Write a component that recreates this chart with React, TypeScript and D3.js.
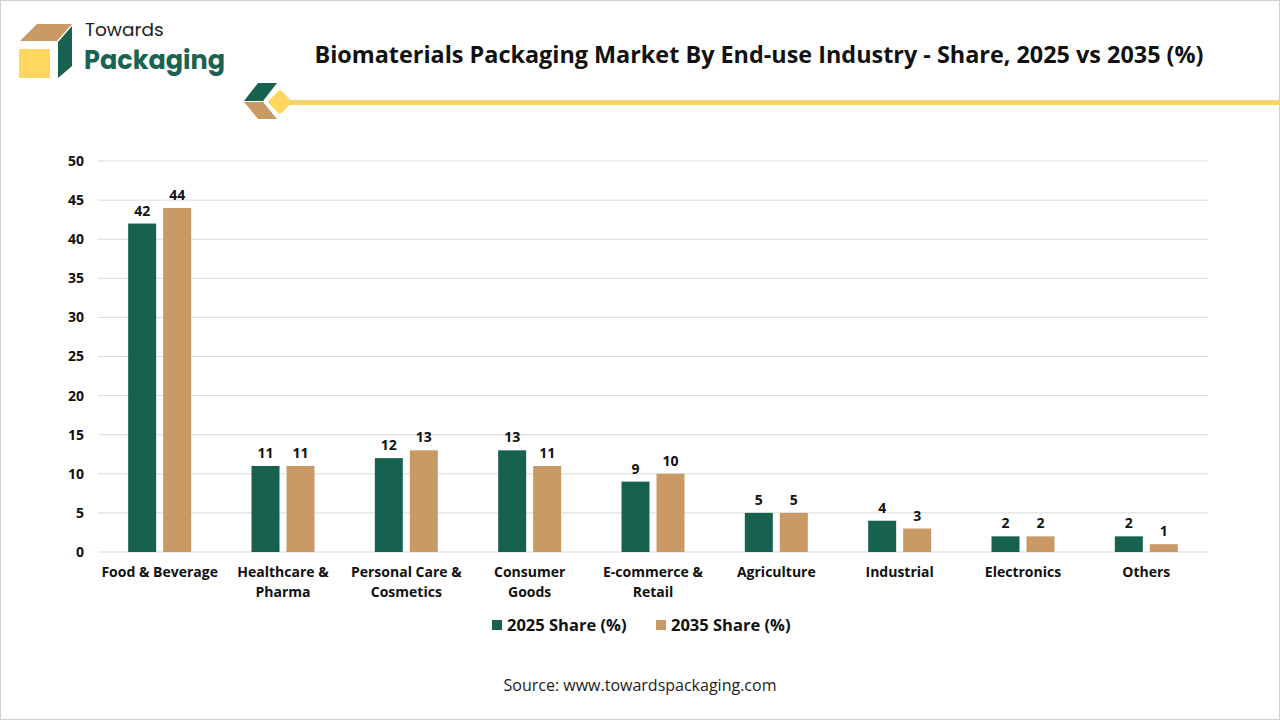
import { scaleBand, scaleLinear } from "d3";

const categories = [
  ["Food & Beverage"],
  ["Healthcare &", "Pharma"],
  ["Personal Care &", "Cosmetics"],
  ["Consumer", "Goods"],
  ["E-commerce &", "Retail"],
  ["Agriculture"],
  ["Industrial"],
  ["Electronics"],
  ["Others"],
];
const share2025 = [42, 11, 12, 13, 9, 5, 4, 2, 2];
const share2035 = [44, 11, 13, 11, 10, 5, 3, 2, 1];
const seriesNames = ["2025 Share (%)", "2035 Share (%)"];
const seriesColors = ["#17614F", "#C99A66"];
const yTicks = [0, 5, 10, 15, 20, 25, 30, 35, 40, 45, 50];

const W = 1280;
const H = 720;
const margin = { top: 161, right: 72, bottom: 168, left: 98 };
const plotW = W - margin.left - margin.right;
const plotH = H - margin.top - margin.bottom;

const FONT = "'Open Sans', Roboto, sans-serif";

const App = () => {
  const keys = categories.map((c) => c.join(" "));
  const x = scaleBand().domain(keys).range([0, plotW]);
  const x1 = scaleBand()
    .domain(seriesNames)
    .range([0, 63])
    .paddingInner(0.2);
  const y = scaleLinear().domain([0, 50]).range([plotH, 0]);
  const series = [share2025, share2035];

  return (
    <div style={{ position: "absolute", left: 0, top: 0 }}>
      <svg width={W} height={H} style={{ display: "block", fontFamily: FONT }}>
        <rect x={0.5} y={0.5} width={W - 1} height={H - 1} fill="#fff" stroke="#d0d0d0" />

        {/* logo */}
        <polygon points="20,41 37,24 72,24 57,41" fill="#C99A66" />
        <polygon points="58,42 72,26 72,66 58,78" fill="#17614F" />
        <rect x={19} y={49} width={31} height={29} fill="#FFD75E" />
        <text x={85} y={36} fontSize={18.5} fill="#222" fontFamily="Poppins, 'Open Sans', sans-serif">
          Towards
        </text>
        <text x={84} y={69} fontSize={25.5} fontWeight={700} fill="#1B6351" fontFamily="Poppins, 'Open Sans', sans-serif">
          Packaging
        </text>

        {/* title */}
        <text x={759} y={63} fontSize={23.4} fontWeight={700} textAnchor="middle" fill="#111" fontFamily="'Open Sans', sans-serif">
          Biomaterials Packaging Market By End-use Industry - Share, 2025 vs 2035 (%)
        </text>

        {/* decoration */}
        <polygon points="244,101 258,83 277,83 263,101" fill="#17614F" />
        <polygon points="244,102 263,102 277,119 258,119" fill="#C99A66" />
        <rect x={271} y={93} width={18} height={18} rx={3} fill="#FFD75E" transform="rotate(45 280 102)" />
        <rect x={290} y={100} width={990} height={5} fill="#F7D466" />

        <g transform={`translate(${margin.left},${margin.top})`}>
          {yTicks.map((t) => (
            <g key={t}>
              <line x1={0} x2={plotW} y1={y(t)} y2={y(t)} stroke="#d9d9d9" strokeWidth={1} />
              <text x={-14} y={y(t)} dy="0.35em" textAnchor="end" fontSize={14} fontWeight={700} fill="#111">
                {t}
              </text>
            </g>
          ))}

          {keys.map((k, i) => {
            const gx = x(k)! + (x.bandwidth() - 63) / 2;
            return (
              <g key={k} transform={`translate(${gx},0)`}>
                {seriesNames.map((s, j) => {
                  const v = series[j][i];
                  const bx = x1(s)!;
                  return (
                    <g key={s}>
                      <rect
                        x={bx}
                        y={y(v)}
                        width={x1.bandwidth()}
                        height={plotH - y(v)}
                        fill={seriesColors[j]}
                      />
                      <text
                        x={bx + x1.bandwidth() / 2}
                        y={y(v) - 8}
                        textAnchor="middle"
                        fontSize={14}
                        fontWeight={700}
                        fill="#111"
                      >
                        {v}
                      </text>
                    </g>
                  );
                })}
              </g>
            );
          })}

          {categories.map((lines, i) => (
            <text
              key={keys[i]}
              x={x(keys[i])! + x.bandwidth() / 2}
              y={plotH + 25}
              textAnchor="middle"
              fontSize={14}
              fontWeight={700}
              fill="#111"
            >
              {lines.map((l, li) => (
                <tspan key={li} x={x(keys[i])! + x.bandwidth() / 2} dy={li === 0 ? 0 : 20}>
                  {l}
                </tspan>
              ))}
            </text>
          ))}
        </g>

        {/* legend */}
        {seriesNames.map((s, j) => {
          const lx = [492, 656][j];
          return (
            <g key={s}>
              <rect x={lx} y={620} width={10} height={10} fill={seriesColors[j]} />
              <text x={lx + 15} y={631} fontSize={16.5} fontWeight={700} fill="#111">
                {s}
              </text>
            </g>
          );
        })}

        <text x={640} y={691} textAnchor="middle" fontSize={16} fill="#222" fontFamily="'Liberation Sans Narrow', 'Open Sans', sans-serif">
          Source: www.towardspackaging.com
        </text>
      </svg>
    </div>
  );
};

export default App;
